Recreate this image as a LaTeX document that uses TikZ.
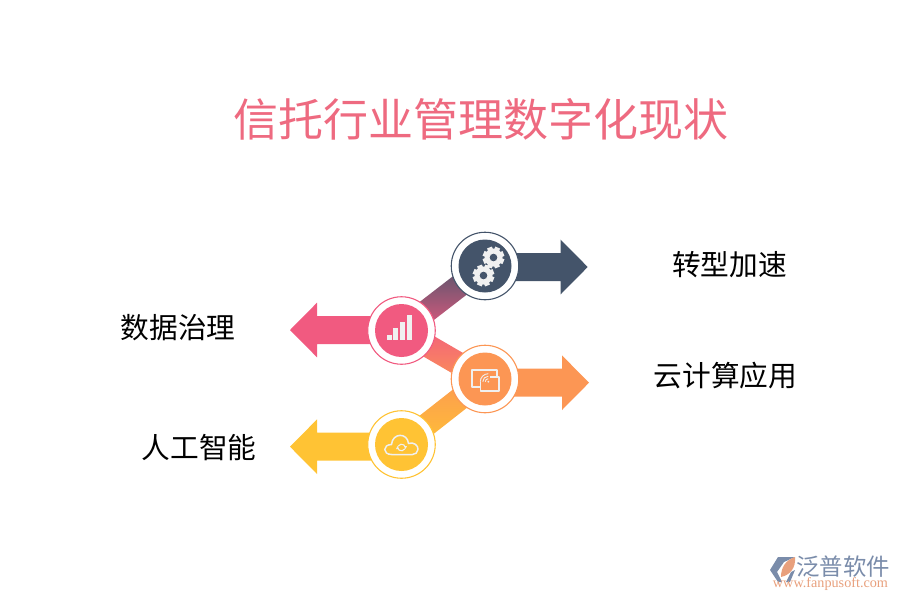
\documentclass[tikz,border=0pt]{standalone}
\usepackage{fontspec}
\usepackage{xcolor}
\usetikzlibrary{calc, positioning, shapes.geometric}
\setmainfont{Noto Sans CJK SC}
\newfontfamily\urlfont{Liberation Serif}
\definecolor{trdark}{RGB}{68, 84, 106}
\definecolor{trpink}{RGB}{241, 90, 128}
\definecolor{trorange}{RGB}{252, 150, 84}
\definecolor{tryellow}{RGB}{255, 195, 52}
\definecolor{trtitle}{RGB}{238, 106, 128}
\definecolor{tricon}{RGB}{240, 240, 240}
\definecolor{logoblue}{RGB}{122, 140, 170}
\definecolor{logoorange}{RGB}{232, 160, 125}
\tikzset{
    ringnode/.style={circle, fill=white, line width=1.1pt, minimum size=67.5pt, inner sep=0pt},
    hubnode/.style={circle, minimum size=53pt, inner sep=0pt},
    labelnode/.style={inner sep=0pt, font=\fontsize{28.7}{32}\selectfont},
    iconline/.style={draw=tricon, line width=1.5pt, line join=round}
}
% arrow shapes, given the colour and the tip
\newcommand{\rightshape}[2]{\fill[#1] (#2) -- ++(-27,-27.3) -- ++(0,13.3) -- ++(-90,0) -- ++(0,28) -- ++(90,0) -- ++(0,13.3) -- cycle;}
\newcommand{\leftshape}[2]{\fill[#1] (#2) -- ++(27,-27.3) -- ++(0,13.3) -- ++(90,0) -- ++(0,28) -- ++(-90,0) -- ++(0,13.3) -- cycle;}
% band between two hubs
\newcommand{\bandshape}[4]{\shade[top color=#3, bottom color=#4]
    ($(#1)!11.5pt!90:(#2)$) -- ($(#2)!11.5pt!-90:(#1)$) -- ($(#2)!11.5pt!90:(#1)$) -- ($(#1)!11.5pt!-90:(#2)$) -- cycle;}
% gear with eight teeth
\newcommand{\gearicon}[3]{
    \foreach \a in {0,45,...,315} {
        \fill[tricon, rotate around={\a+22:(#1)}] ($(#1)+(-2.6,-10.8)$) rectangle ($(#1)+(2.6,0)$);
    }
    \fill[tricon] (#1) circle[radius=9pt];
    \fill[#2] (#1) circle[radius=#3];
}
\begin{document}
\begin{tikzpicture}[x=1pt, y=-1pt]
    \useasboundingbox (0,0) rectangle (900,600);
    \node[inner sep=0pt, text=trtitle, font=\fontsize{45}{50}\selectfont] (titlenode) at (481,119) {信托行业管理数字化现状};

    \coordinate (gearpos) at (485,266);
    \coordinate (barpos) at (401.5,330.5);
    \coordinate (castpos) at (485,379);
    \coordinate (cloudpos) at (401.5,444.5);

    \bandshape{gearpos}{barpos}{trdark}{trpink}
    \bandshape{barpos}{castpos}{trpink}{trorange}
    \bandshape{castpos}{cloudpos}{trorange}{tryellow}

    \coordinate (geartip) at (587.7,267);
    \coordinate (bartip) at (290,330);
    \coordinate (casttip) at (589,382.7);
    \coordinate (cloudtip) at (290,446.7);
    \rightshape{trdark}{geartip}
    \leftshape{trpink}{bartip}
    \rightshape{trorange}{casttip}
    \leftshape{tryellow}{cloudtip}

    \node[ringnode, draw=trdark] (gearring) at (gearpos) {};
    \node[hubnode, fill=trdark] (gearhub) at (gearpos) {};
    \node[ringnode, draw=trpink] (barring) at (barpos) {};
    \node[hubnode, fill=trpink] (barhub) at (barpos) {};
    \node[ringnode, draw=trorange] (castring) at (castpos) {};
    \node[hubnode, fill=trorange] (casthub) at (castpos) {};
    \node[ringnode, draw=tryellow] (cloudring) at (cloudpos) {};
    \node[hubnode, fill=tryellow] (cloudhub) at (cloudpos) {};

    % icons
    \coordinate (gearone) at (493.5,257.5);
    \coordinate (geartwo) at (483.5,275.5);
    \gearicon{gearone}{trdark}{3.8pt}
    \gearicon{geartwo}{trdark}{3.8pt}

    \foreach \x/\top in {-15/4.5, -8.3/-2.5, -1.7/-9, 5/-15.7} {
        \fill[tricon] ($(barpos)+(\x,\top)$) rectangle ($(barpos)+(\x+5,9.3)$);
    }

    \begin{scope}[shift={(castpos)}]
        \draw[iconline] (-5,8) -- (-13,8) -- (-13,-9) -- (12,-9) -- (12,-2);
        \draw[iconline] (-4.5,3) -- (-4.5,12) -- (14,12) -- (14,-2) -- (5,-2);
        \fill[tricon] (3.3,2.7) circle[radius=1pt];
        \draw[tricon, line width=0.9pt] (0.3,2.7) arc[start angle=180, end angle=90, radius=3pt];
        \draw[tricon, line width=0.9pt] (-2.2,2.7) arc[start angle=180, end angle=90, radius=5.5pt];
        \draw[tricon, line width=0.9pt] (-4.7,2.7) arc[start angle=180, end angle=90, radius=8pt];
    \end{scope}

    \begin{scope}[shift={(cloudpos)}]
        \draw[iconline] (-10,10) .. controls (-19,10) and (-19,0) .. (-10,0)
            .. controls (-9,-12) and (6,-12) .. (7,-1)
            .. controls (12,-3) and (17,1) .. (16.5,5)
            .. controls (16,8) and (14,10) .. (11,10) -- cycle;
        \draw[tricon, line width=1.1pt] (4,3) arc[start angle=10, end angle=150, radius=4pt];
        \draw[tricon, line width=1.1pt] (-4,3) arc[start angle=190, end angle=330, radius=4pt];
        \fill[tricon] (2.5,1.5) -- (5.5,1.5) -- (4,4.5) -- cycle;
        \fill[tricon] (-2.5,4.5) -- (-5.5,4.5) -- (-4,1.5) -- cycle;
    \end{scope}

    \node[labelnode] (speednode) at (729.5,265) {转型加速};
    \node[labelnode] (datanode) at (178,328) {数据治理};
    \node[labelnode] (cloudnode) at (725.5,376) {云计算应用};
    \node[labelnode] (ainode) at (199,448) {人工智能};

    % logo
    \fill[logoblue] (770,570) -- (778,557) -- (795,557) -- (784,562) -- (777,572) -- (782,582) -- (778,582) -- cycle;
    \fill[logoorange] (795,557) .. controls (796,568) and (790,575) .. (781,577) .. controls (781,567) and (786,560) .. (795,557) -- cycle;
    \fill[logoblue] (786,582) -- (791,572) -- (795,570) -- (790,582) -- cycle;
    \node[inner sep=0pt, text=logoblue, font=\fontsize{23.4}{26}\selectfont] (logotext) at (843,566.5) {泛普软件};
    \node[inner sep=0pt, text=logoorange, font=\urlfont\fontsize{14.2}{16}\selectfont] (logourl) at (830.5,584.5) {www.fanpusoft.com};
\end{tikzpicture}
\end{document}
